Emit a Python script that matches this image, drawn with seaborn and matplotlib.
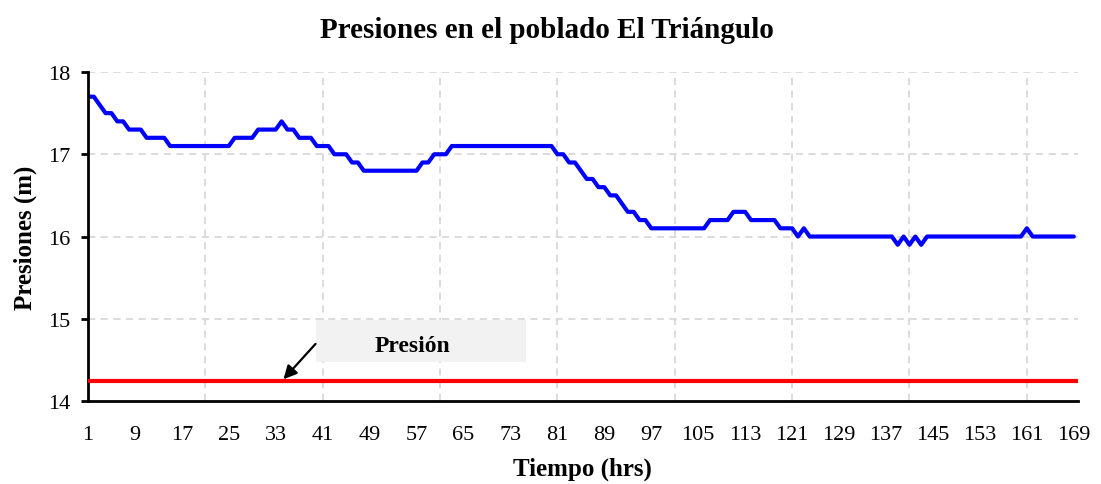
import pandas as pd
import seaborn as sns
import matplotlib.pyplot as plt
from matplotlib.patches import Rectangle

# horas 1..169 y presiones
horas = list(range(1, 170))
presiones = [
    17.7, 17.7, 17.6, 17.5, 17.5, 17.4, 17.4, 17.3, 17.3, 17.3,
    17.2, 17.2, 17.2, 17.2, 17.1, 17.1, 17.1, 17.1, 17.1, 17.1,
    17.1, 17.1, 17.1, 17.1, 17.1, 17.2, 17.2, 17.2, 17.2, 17.3,
    17.3, 17.3, 17.3, 17.4, 17.3, 17.3, 17.2, 17.2, 17.2, 17.1,
    17.1, 17.1, 17.0, 17.0, 17.0, 16.9, 16.9, 16.8, 16.8, 16.8,
    16.8, 16.8, 16.8, 16.8, 16.8, 16.8, 16.8, 16.9, 16.9, 17.0,
    17.0, 17.0, 17.1, 17.1, 17.1, 17.1, 17.1, 17.1, 17.1, 17.1,
    17.1, 17.1, 17.1, 17.1, 17.1, 17.1, 17.1, 17.1, 17.1, 17.1,
    17.0, 17.0, 16.9, 16.9, 16.8, 16.7, 16.7, 16.6, 16.6, 16.5,
    16.5, 16.4, 16.3, 16.3, 16.2, 16.2, 16.1, 16.1, 16.1, 16.1,
    16.1, 16.1, 16.1, 16.1, 16.1, 16.1, 16.2, 16.2, 16.2, 16.2,
    16.3, 16.3, 16.3, 16.2, 16.2, 16.2, 16.2, 16.2, 16.1, 16.1,
    16.1, 16.0, 16.1, 16.0, 16.0, 16.0, 16.0, 16.0, 16.0, 16.0,
    16.0, 16.0, 16.0, 16.0, 16.0, 16.0, 16.0, 16.0, 15.9, 16.0,
    15.9, 16.0, 15.9, 16.0, 16.0, 16.0, 16.0, 16.0, 16.0, 16.0,
    16.0, 16.0, 16.0, 16.0, 16.0, 16.0, 16.0, 16.0, 16.0, 16.0,
    16.1, 16.0, 16.0, 16.0, 16.0, 16.0, 16.0, 16.0, 16.0,
]
presion_min = 14.24
xticks = list(range(1, 170, 8))
grid_x = [21, 41, 61, 81, 101, 121, 141, 161]
yticks = [14, 15, 16, 17, 18]

df = pd.DataFrame({'hora': horas, 'presion': presiones})

sns.set_style("white")
plt.rcParams['font.family'] = ['Liberation Serif', 'DejaVu Serif']
plt.rcParams['text.color'] = 'black'
plt.rcParams['xtick.color'] = 'black'
plt.rcParams['ytick.color'] = 'black'
plt.rcParams['axes.labelcolor'] = 'black'

fig = plt.figure(figsize=(11.01, 4.85), dpi=100)
ax = fig.add_axes([0.0799, 0.171, 0.979 - 0.0799, 0.8495 - 0.171])

# rejilla discontinua
for gx in grid_x:
    ax.axvline(gx, color='#d9d9d9', lw=1.3, ls=(0, (4, 3)), zorder=0)
for gy in yticks[1:]:
    ax.axhline(gy, color='#d9d9d9', lw=1.3, ls=(0, (4, 3)), zorder=0)

sns.lineplot(data=df, x='hora', y='presion', color='#0000ff', lw=3, ax=ax)
ax.axhline(presion_min, color='#ff0000', lw=3, zorder=3)

# cuadro de la etiqueta
ax.add_patch(Rectangle((39.9, 14.47), 35.8, 0.52, facecolor='#f2f2f2',
                       edgecolor='none', zorder=1))
ax.text(56.3, 14.68, 'Presión', ha='center', va='center', fontsize=17,
        fontweight='bold', zorder=4)
ax.annotate('', xy=(34, presion_min), xytext=(40.1, 14.72),
            arrowprops=dict(arrowstyle='-|>', color='black', lw=1.6,
                            mutation_scale=20), zorder=5)

ax.set_xlim(1, 169.7)
ax.set_ylim(14, 18)
ax.set_xticks(xticks)
ax.set_yticks(yticks)
ax.tick_params(axis='x', length=0, labelsize=16, pad=17)
ax.tick_params(axis='y', length=5, width=2, direction='out', labelsize=16, pad=8,
               left=True)
for s in ['top', 'right']:
    ax.spines[s].set_visible(False)
for s in ['left', 'bottom']:
    ax.spines[s].set_linewidth(2)
    ax.spines[s].set_color('black')

ax.set_xlabel('Tiempo (hrs)', fontsize=18, fontweight='bold', labelpad=9)
ax.set_ylabel('Presiones (m)', fontsize=18, fontweight='bold', labelpad=8)
fig.text(0.497, 0.938, 'Presiones en el poblado El Triángulo', ha='center',
         va='center', fontsize=21, fontweight='bold')

fig.savefig('out.png', dpi=100)
